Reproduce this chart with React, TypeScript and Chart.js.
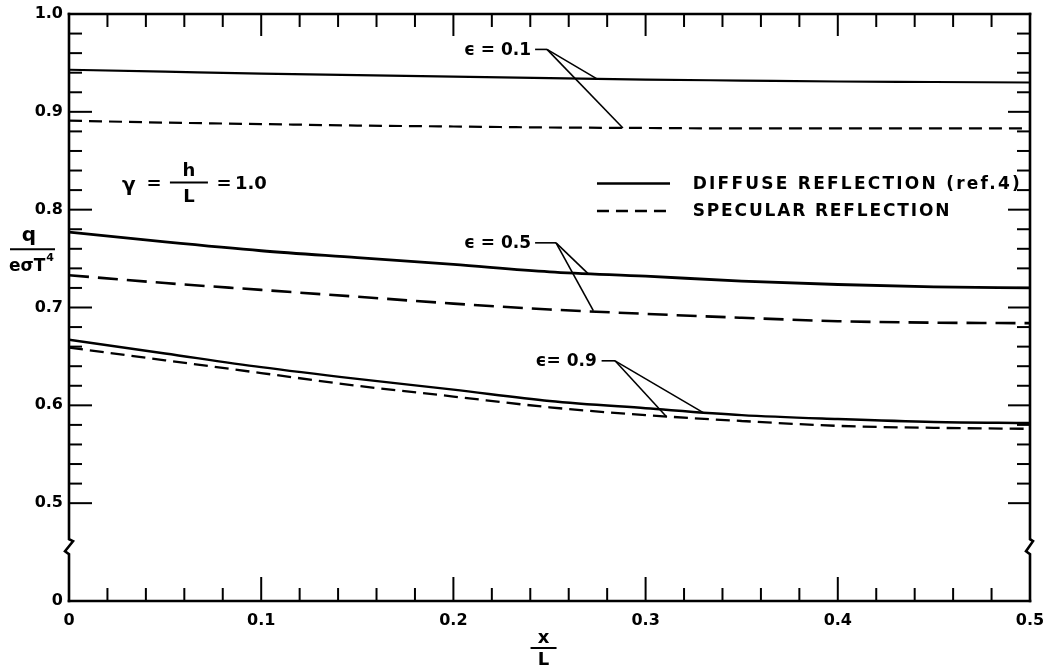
import React, { useEffect, useRef } from "react";
import { Chart, registerables } from "chart.js";

Chart.register(...registerables);

// ---- data ----
const xValues = [0, 0.05, 0.1, 0.15, 0.2, 0.25, 0.3, 0.35, 0.4, 0.45, 0.5];

const diffuse01 = [0.943, 0.941, 0.939, 0.9375, 0.936, 0.9345, 0.933, 0.932, 0.931, 0.9305, 0.93];
const specular01 = [0.891, 0.889, 0.8875, 0.886, 0.885, 0.884, 0.8835, 0.883, 0.883, 0.883, 0.883];
const diffuse05 = [0.777, 0.767, 0.758, 0.751, 0.744, 0.7365, 0.732, 0.727, 0.7235, 0.721, 0.72];
const specular05 = [0.733, 0.725, 0.718, 0.711, 0.704, 0.698, 0.6935, 0.6895, 0.686, 0.6845, 0.684];
const diffuse09 = [0.667, 0.653, 0.639, 0.627, 0.616, 0.6045, 0.597, 0.59, 0.586, 0.583, 0.582];
const specular09 = [0.659, 0.646, 0.633, 0.62, 0.609, 0.598, 0.59, 0.584, 0.579, 0.577, 0.576];

const xTickValues = [0, 0.1, 0.2, 0.3, 0.4, 0.5];
const xTickLabels = ["0", "0.1", "0.2", "0.3", "0.4", "0.5"];
// the y axis is broken: the origin "0" sits just below the break
const yTickValues = [0.4, 0.5, 0.6, 0.7, 0.8, 0.9, 1.0];
const yTickLabels = ["0", "0.5", "0.6", "0.7", "0.8", "0.9", "1.0"];
const yBreakValue = 0.455;

const epsLabels = ["\u03F5 = 0.1", "\u03F5 = 0.5", "\u03F5= 0.9"];
// [textRightX, y, leaderStartX, leaderJunctionX]
const epsLabelAnchors = [
  [0.2404, 0.9638, 0.2425, 0.2487],
  [0.2404, 0.7661, 0.2425, 0.2534],
  [0.2746, 0.6455, 0.2771, 0.2841],
];
// leader end points on the diffuse and specular curves
const epsLeaderTargets = [
  [[0.2747, 0.9337], [0.2882, 0.8835]],
  [[0.2702, 0.7343], [0.2728, 0.6967]],
  [[0.33, 0.5925], [0.311, 0.588]],
];

const legendLabels = ["DIFFUSE REFLECTION (ref.4)", "SPECULAR REFLECTION"];
const legendSampleX = [0.2747, 0.3127];
const legendTextX = 0.3245;
const legendRows = [0.8268, 0.7986];
const legendTextEndX = [0.5, 0.4632];

const gammaAnchor = [0.0291, 0.8268];

const FONT = '"DejaVu Sans", "Liberation Sans", sans-serif';

function fitText(ctx: CanvasRenderingContext2D, text: string, x: number, y: number, width: number) {
  (ctx as any).letterSpacing = "0px";
  const w = ctx.measureText(text).width;
  const ls = Math.max(0, (width - w) / text.length);
  (ctx as any).letterSpacing = `${ls}px`;
  ctx.fillText(text, x, y);
  (ctx as any).letterSpacing = "0px";
}

const decorPlugin = {
  id: "decor",
  afterDraw(chart: any) {
    const { ctx, chartArea } = chart;
    const xs = chart.scales.x;
    const ys = chart.scales.y;
    const L = chartArea.left;
    const R = chartArea.right;
    const T = chartArea.top;
    const B = chartArea.bottom;
    const px = (v: number) => xs.getPixelForValue(v);
    const py = (v: number) => ys.getPixelForValue(v);
    const line = (x1: number, y1: number, x2: number, y2: number) => {
      ctx.beginPath();
      ctx.moveTo(x1, y1);
      ctx.lineTo(x2, y2);
      ctx.stroke();
    };

    ctx.save();
    ctx.strokeStyle = "#000";
    ctx.fillStyle = "#000";
    ctx.lineCap = "square";
    ctx.lineJoin = "miter";
    ctx.setLineDash([]);

    // frame with broken vertical axes
    ctx.lineWidth = 2.6;
    line(L, T, R, T);
    line(L, B, R, B);
    const yb = py(yBreakValue);
    ctx.beginPath();
    ctx.moveTo(L, T);
    ctx.lineTo(L, yb - 8);
    ctx.lineTo(L + 4, yb - 6);
    ctx.lineTo(L - 4, yb + 4);
    ctx.lineTo(L, yb + 7);
    ctx.lineTo(L, B);
    ctx.stroke();
    ctx.beginPath();
    ctx.moveTo(R, T);
    ctx.lineTo(R, yb - 8);
    ctx.lineTo(R + 3, yb - 6);
    ctx.lineTo(R - 4, yb + 4);
    ctx.lineTo(R, yb + 7);
    ctx.lineTo(R, B);
    ctx.stroke();

    // tick marks (inward, all sides)
    ctx.lineWidth = 2;
    ctx.lineCap = "butt";
    for (let i = 1; i < 25; i++) {
      const x = px(i * 0.02);
      const major = i % 5 === 0;
      line(x, B, x, B - (major ? 24 : 13));
      line(x, T, x, T + (major ? 22 : 13));
    }
    for (let i = 25; i < 50; i++) {
      const y = py(i * 0.02);
      const major = i % 5 === 0;
      line(L, y, L + (major ? 23 : 13), y);
      line(R, y, R - (major ? 22 : 13), y);
    }

    // epsilon labels with leader lines
    ctx.font = `bold 17px ${FONT}`;
    ctx.textBaseline = "middle";
    ctx.textAlign = "right";
    ctx.lineWidth = 1.6;
    epsLabels.forEach((lab, i) => {
      const [tx, ty, sx, jx] = epsLabelAnchors[i];
      const y = py(ty);
      ctx.fillText(lab, px(tx), y + 1);
      line(px(sx), y, px(jx), y);
      epsLeaderTargets[i].forEach(([ex, ey]) => line(px(jx), y, px(ex), py(ey)));
    });

    // legend
    ctx.textAlign = "left";
    ctx.font = `bold 17px ${FONT}`;
    legendLabels.forEach((lab, i) => {
      const y = py(legendRows[i]);
      ctx.lineWidth = 2.4;
      ctx.setLineDash(i === 0 ? [] : [12, 7]);
      line(px(legendSampleX[0]), y, px(legendSampleX[1]), y);
      ctx.setLineDash([]);
      const x0 = px(legendTextX);
      fitText(ctx, lab, x0, y + 1, px(legendTextEndX[i]) - x0 - 8);
    });

    // gamma = h / L = 1.0
    const gx = px(gammaAnchor[0]);
    const gy = py(gammaAnchor[1]);
    ctx.textAlign = "center";
    ctx.font = `bold 20px ${FONT}`;
    ctx.fillText("\u03B3", gx + 4, gy + 2);
    ctx.font = `bold 18px ${FONT}`;
    ctx.fillText("=", gx + 29, gy + 1);
    ctx.fillText("h", gx + 64, gy - 12);
    ctx.fillText("L", gx + 64, gy + 14);
    ctx.lineWidth = 2;
    line(gx + 45, gy - 1, gx + 83, gy - 1);
    ctx.fillText("=", gx + 99, gy + 1);
    ctx.textAlign = "left";
    ctx.fillText("1.0", gx + 110, gy + 1);

    // y axis title: q / (e sigma T^4)
    const ty = py(0.78);
    ctx.textAlign = "center";
    ctx.font = `bold 20px ${FONT}`;
    ctx.fillText("q", L - 40, ty + 7);
    ctx.lineWidth = 2;
    line(L - 59, ty + 20, L - 14, ty + 20);
    ctx.font = `bold 17px ${FONT}`;
    ctx.textAlign = "left";
    const w = ctx.measureText("e\u03C3T").width;
    ctx.fillText("e\u03C3T", L - 60, ty + 37);
    ctx.font = `bold 11px ${FONT}`;
    ctx.fillText("4", L - 60 + w + 1, ty + 29);

    // x axis title: x / L
    const xc = px(0.2469);
    ctx.textAlign = "center";
    ctx.font = `bold 18px ${FONT}`;
    ctx.fillText("x", xc, B + 37);
    line(xc - 13, B + 47, xc + 13, B + 47);
    ctx.fillText("L", xc, B + 59);

    ctx.restore();
  },
};

function nearestLabel(values: number[], labels: string[], v: number) {
  let best = 0;
  for (let i = 1; i < values.length; i++) {
    if (Math.abs(values[i] - v) < Math.abs(values[best] - v)) best = i;
  }
  return labels[best];
}

export default function App() {
  const ref = useRef<HTMLCanvasElement>(null);

  useEffect(() => {
    document.body.style.margin = "0";
    const canvas = ref.current;
    if (!canvas) return;

    const series = (label: string, ys: number[], width: number, dash: number[]) => ({
      label,
      data: xValues.map((x, i) => ({ x, y: ys[i] })),
      borderColor: "#000",
      borderWidth: width,
      borderDash: dash,
      borderCapStyle: "butt",
      pointRadius: 0,
      cubicInterpolationMode: "monotone",
      fill: false,
    });

    const tickFont = { family: FONT, weight: "bold", size: 16 };

    const chart = new Chart(canvas, {
      type: "line",
      data: {
        datasets: [
          series("Diffuse, ε = 0.1", diffuse01, 2.2, []),
          series("Specular, ε = 0.1", specular01, 2.2, [13, 7]),
          series("Diffuse, ε = 0.5", diffuse05, 2.8, []),
          series("Specular, ε = 0.5", specular05, 2.6, [20, 9]),
          series("Diffuse, ε = 0.9", diffuse09, 2.4, []),
          series("Specular, ε = 0.9", specular09, 2.3, [14, 7]),
        ],
      } as any,
      options: {
        responsive: false,
        animation: false,
        events: [],
        layout: { padding: { left: 0, right: 14, top: 14, bottom: 0 } },
        plugins: {
          legend: { display: false },
          tooltip: { enabled: false },
          title: { display: false },
        },
        scales: {
          x: {
            type: "linear",
            min: 0,
            max: 0.5,
            grid: { display: false, drawTicks: false },
            border: { display: false },
            afterBuildTicks: (s: any) => {
              s.ticks = xTickValues.map((v) => ({ value: v }));
            },
            afterFit: (s: any) => {
              s.height = 69;
              s.paddingLeft = 0;
              s.paddingRight = 0;
            },
            ticks: {
              autoSkip: false,
              maxRotation: 0,
              padding: 10,
              color: "#000",
              font: tickFont,
              callback: (v: any) => nearestLabel(xTickValues, xTickLabels, Number(v)),
            },
          },
          y: {
            type: "linear",
            min: 0.4,
            max: 1.0,
            grid: { display: false, drawTicks: false },
            border: { display: false },
            afterBuildTicks: (s: any) => {
              s.ticks = yTickValues.map((v) => ({ value: v }));
            },
            afterFit: (s: any) => {
              s.width = 69;
              s.paddingTop = 0;
              s.paddingBottom = 0;
            },
            ticks: {
              autoSkip: false,
              padding: 6,
              color: "#000",
              font: tickFont,
              callback: (v: any) => nearestLabel(yTickValues, yTickLabels, Number(v)),
            },
          },
        },
      } as any,
      plugins: [decorPlugin],
    });

    return () => chart.destroy();
  }, []);

  return (
    <div style={{ width: 1044, height: 670, background: "#fff" }}>
      <canvas ref={ref} width={1044} height={670} style={{ display: "block" }} />
    </div>
  );
}
